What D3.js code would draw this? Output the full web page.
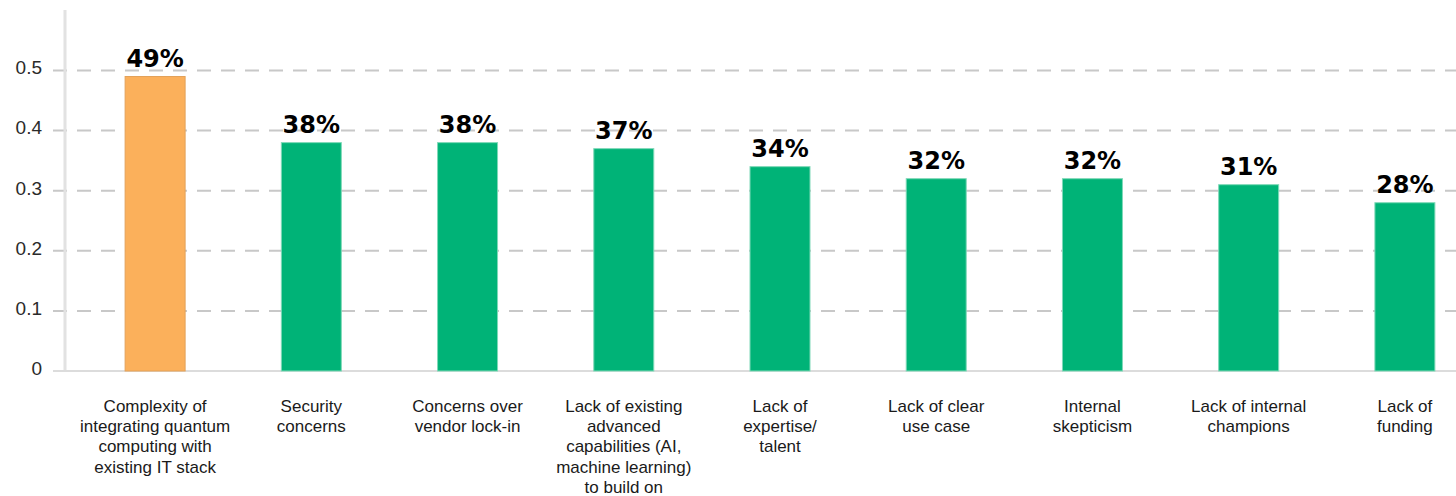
<!DOCTYPE html>
<html>
<head>
<meta charset="utf-8">
<script src="https://cdn.jsdelivr.net/npm/d3@7/dist/d3.min.js"></script>
<style>
  html, body { margin: 0; padding: 0; background: #ffffff; }
  svg { display: block; }
</style>
</head>
<body>
<svg id="chart" width="1456" height="496"></svg>
<script>
// Barriers to quantum computing adoption (share of respondents)
const categories = [
  ["Complexity of", "integrating quantum", "computing with", "existing IT stack"],
  ["Security", "concerns"],
  ["Concerns over", "vendor lock-in"],
  ["Lack of existing", "advanced", "capabilities (AI,", "machine learning)", "to build on"],
  ["Lack of", "expertise/", "talent"],
  ["Lack of clear", "use case"],
  ["Internal", "skepticism"],
  ["Lack of internal", "champions"],
  ["Lack of", "funding"]
];
const values = [0.49, 0.38, 0.38, 0.37, 0.34, 0.32, 0.32, 0.31, 0.28];
const valueLabels = ["49%", "38%", "38%", "37%", "34%", "32%", "32%", "31%", "28%"];
const yTicks = [0, 0.1, 0.2, 0.3, 0.4, 0.5];
const yTickLabels = ["0", "0.1", "0.2", "0.3", "0.4", "0.5"];
const highlightIndex = 0;

const svg = d3.select("#chart");
const W = 1456;

const x = d3.scaleBand()
  .domain(d3.range(categories.length))
  .range([77, 1483])
  .paddingInner(0.616)
  .paddingOuter(0.308);

const y = d3.scaleLinear()
  .domain([0, 0.5])
  .range([371, 70.5]);

// horizontal dashed gridlines
const grid = svg.append("g");
grid.selectAll("line")
  .data(yTicks.filter(t => t > 0))
  .join("line")
  .attr("x1", 53).attr("x2", W)
  .attr("y1", d => y(d)).attr("y2", d => y(d))
  .attr("stroke", "#c8c8c8")
  .attr("stroke-width", 2)
  .attr("stroke-dasharray", "14,10");

// vertical axis line
svg.append("line")
  .attr("x1", 65).attr("x2", 65)
  .attr("y1", 10).attr("y2", y(0))
  .attr("stroke", "#e2e2e2")
  .attr("stroke-width", 3);

// baseline
svg.append("line")
  .attr("x1", 53).attr("x2", W)
  .attr("y1", y(0)).attr("y2", y(0))
  .attr("stroke", "#dcdcdc")
  .attr("stroke-width", 2);

// y tick labels
svg.append("g").selectAll("text")
  .data(yTicks)
  .join("text")
  .attr("x", 42)
  .attr("y", d => y(d))
  .attr("dy", "0.2em")
  .attr("text-anchor", "end")
  .attr("font-family", "'Liberation Sans', Arial, sans-serif")
  .attr("font-size", 19)
  .attr("fill", "#2a2a2a")
  .text((d, i) => yTickLabels[i]);

// bars
svg.append("g").selectAll("rect")
  .data(values)
  .join("rect")
  .attr("x", (d, i) => x(i))
  .attr("width", x.bandwidth())
  .attr("y", d => y(d))
  .attr("height", d => y(0) - y(d))
  .attr("fill", (d, i) => i === highlightIndex ? "#fbb05b" : "#00b377")
  .attr("stroke", (d, i) => i === highlightIndex ? "#e3a25a" : "#7fd9b8")
  .attr("stroke-width", 1);

// value labels
svg.append("g").selectAll("text")
  .data(values)
  .join("text")
  .attr("x", (d, i) => x(i) + x.bandwidth() / 2)
  .attr("y", d => y(d) - 10)
  .attr("text-anchor", "middle")
  .attr("font-family", "'DejaVu Sans', sans-serif")
  .attr("font-weight", "bold")
  .attr("font-size", 24)
  .attr("fill", "#000")
  .text((d, i) => valueLabels[i]);

// category labels
const cat = svg.append("g").selectAll("text")
  .data(categories)
  .join("text")
  .attr("x", (d, i) => x(i) + x.bandwidth() / 2)
  .attr("y", 411.5)
  .attr("text-anchor", "middle")
  .attr("font-family", "'Liberation Sans', Arial, sans-serif")
  .attr("font-size", 17)
  .attr("fill", "#1a1a1a");
cat.selectAll("tspan")
  .data(d => d)
  .join("tspan")
  .attr("x", function () { return d3.select(this.parentNode).attr("x"); })
  .attr("dy", (d, i) => i === 0 ? 0 : 20.4)
  .text(d => d);
</script>
</body>
</html>
